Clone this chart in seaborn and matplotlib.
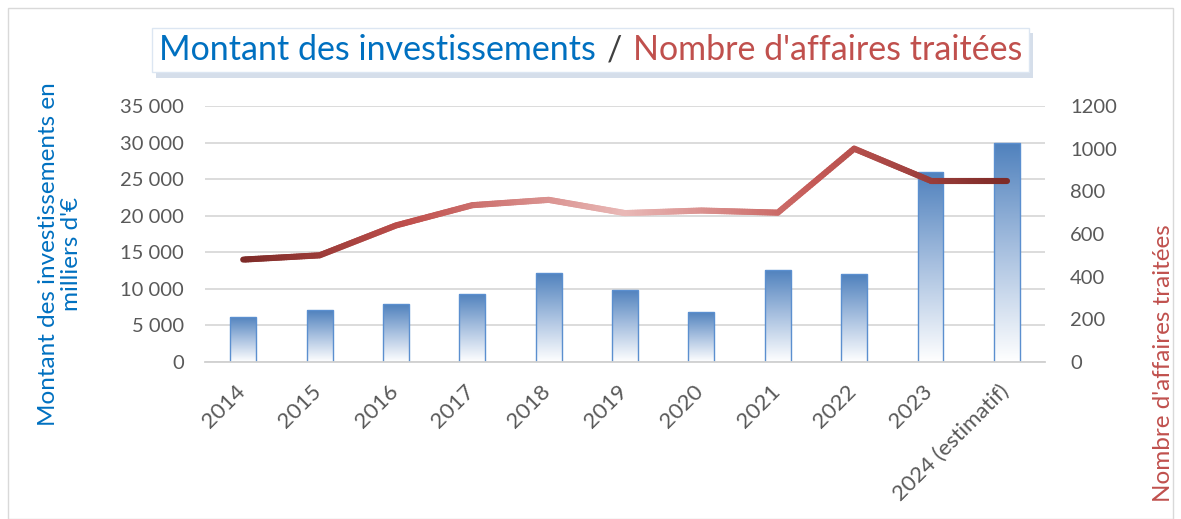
import numpy as np
import pandas as pd
import matplotlib
matplotlib.use("Agg")
import matplotlib.pyplot as plt
import seaborn as sns
from matplotlib.collections import LineCollection
from matplotlib.colors import LinearSegmentedColormap
from matplotlib.offsetbox import TextArea, HPacker, AnchoredOffsetbox
from matplotlib.patches import Rectangle
import matplotlib.patheffects as pe
import matplotlib.transforms as mtransforms

# data
annees = ["2014", "2015", "2016", "2017", "2018", "2019", "2020", "2021", "2022", "2023", "2024 (estimatif)"]
investissements = [6200, 7100, 7900, 9300, 12200, 9850, 6850, 12600, 12000, 26000, 30000]
affaires = [480, 500, 640, 735, 760, 698, 710, 700, 1000, 850, 850]

df = pd.DataFrame({"annee": annees, "invest": investissements, "affaires": affaires})

sns.set_theme(style="white")
plt.rcParams['font.family'] = ['Lato', 'DejaVu Sans']

BLEU = "#0070c0"
ROUGE = "#c0504d"
GRIS = "#595959"

fig = plt.figure(figsize=(11.81, 5.19), dpi=100)
ax = fig.add_axes([0.1736, 0.3025, 0.7113, 0.4933])

# bars
sns.barplot(data=df, x="annee", y="invest", ax=ax, width=0.34, color="#4f81bd",
            edgecolor="#5b8fcf", linewidth=1.0, zorder=2)

# vertical gradient inside each bar (blue on top, white at bottom)
grad = np.linspace(0, 1, 256).reshape(-1, 1)
bar_cmap = LinearSegmentedColormap.from_list("bar", ["#ffffff", "#a9c1e0", "#4f81bd"])
for p in ax.patches:
    x0, y0 = p.get_x(), p.get_y()
    w, h = p.get_width(), p.get_height()
    p.set_facecolor("none")
    im = ax.imshow(grad, cmap=bar_cmap, extent=[x0, x0 + w, y0, y0 + h],
                   origin="lower", aspect="auto", zorder=1.9)
    im.set_clip_path(p)

ax.set_xlim(-0.5, len(annees) - 0.5)
ax.set_ylim(0, 35000)
ax.set_yticks(np.arange(0, 35001, 5000))
ax.set_yticklabels([f"{v:,}".replace(",", " ") for v in range(0, 35001, 5000)])
ax.yaxis.grid(True, color="#d9d9d9", linewidth=1.3, zorder=0)
ax.set_axisbelow(True)
for s in ["top", "right", "left"]:
    ax.spines[s].set_visible(False)
ax.spines["bottom"].set_color("#d0d0d0")
ax.spines["bottom"].set_linewidth(1.3)
ax.tick_params(axis="y", length=0, pad=15, labelsize=14.5, labelcolor=GRIS)
ax.tick_params(axis="x", length=0, pad=4, labelsize=16, labelcolor=GRIS)
ax.set_xlabel("")
ax.set_ylabel("")

offset = mtransforms.ScaledTranslation(-1 / 100, -21 / 100, fig.dpi_scale_trans)
for lab in ax.get_xticklabels():
    lab.set_rotation(45)
    lab.set_ha("right")
    lab.set_va("center")
    lab.set_rotation_mode("anchor")
    lab.set_transform(lab.get_transform() + offset)

fig.text(60 / 1181, 1 - 254 / 519, "Montant des investissements en\nmilliers d'€", rotation=90,
         color=BLEU, fontsize=17.5, ha="center", va="center", linespacing=1.15,
         multialignment="center")

# line on the right axis with a colour gradient along x
ax2 = ax.twinx()
ax2.set_ylim(0, 1200)
ax2.set_yticks(np.arange(0, 1201, 200))
ax2.tick_params(axis="y", length=0, pad=18, labelsize=14.5, labelcolor=GRIS)
for s in ax2.spines.values():
    s.set_visible(False)
ax2.grid(False)

xs = np.arange(len(annees))
fine_x, fine_y = [], []
for i in range(len(xs) - 1):
    t = np.linspace(0, 1, 30, endpoint=False)
    fine_x.extend(xs[i] + t * (xs[i + 1] - xs[i]))
    fine_y.extend(affaires[i] + t * (affaires[i + 1] - affaires[i]))
fine_x.append(xs[-1])
fine_y.append(affaires[-1])
pts = np.column_stack([fine_x, fine_y]).reshape(-1, 1, 2)
segs = np.concatenate([pts[:-1], pts[1:]], axis=1)
line_cmap = LinearSegmentedColormap.from_list(
    "ligne", [(0, "#7e2b28"), (0.22, "#c0504d"), (0.5, "#e9b9b7"),
              (0.75, "#c55a57"), (1, "#7e2b28")])
lc = LineCollection(segs, cmap=line_cmap, linewidth=4.4, capstyle="round", joinstyle="round")
lc.set_array(np.array(fine_x[:-1]) / xs[-1])
lc.set_clim(0, 1)
ax2.add_collection(lc)
ax2.set_xlim(-0.5, len(annees) - 0.5)

fig.text(1163 / 1181, 1 - 224 / 519, "Nombre d'affaires traitées", rotation=90, color=ROUGE,
         fontsize=17.5, ha="center", va="top")

# title in a framed box with a soft shadow
parts = [TextArea("Montant des investissements", textprops=dict(color=BLEU, fontsize=24.5)),
         TextArea("/", textprops=dict(color="#404040", fontsize=24.5)),
         TextArea("Nombre d'affaires traitées", textprops=dict(color=ROUGE, fontsize=24.5))]
box = HPacker(children=parts, align="baseline", pad=0, sep=8)
title = AnchoredOffsetbox(loc="center", child=box, pad=0.42, borderpad=0, frameon=True,
                          bbox_to_anchor=(0.5, 1 - 50 / 519), bbox_transform=fig.transFigure)
title.patch.set_facecolor("white")
title.patch.set_edgecolor("#dce6f2")
title.patch.set_path_effects([pe.SimplePatchShadow(offset=(3, -4), shadow_rgbFace="#d5deea", alpha=1),
                              pe.Normal()])
fig.add_artist(title)

# thin frame around the chart
fig.add_artist(Rectangle((8 / 1181, 0), 1 - 16 / 1181, 1 - 8 / 519, transform=fig.transFigure,
                         fill=False, edgecolor="#d9d9d9", linewidth=1))

fig.savefig("out.png", dpi=100)
